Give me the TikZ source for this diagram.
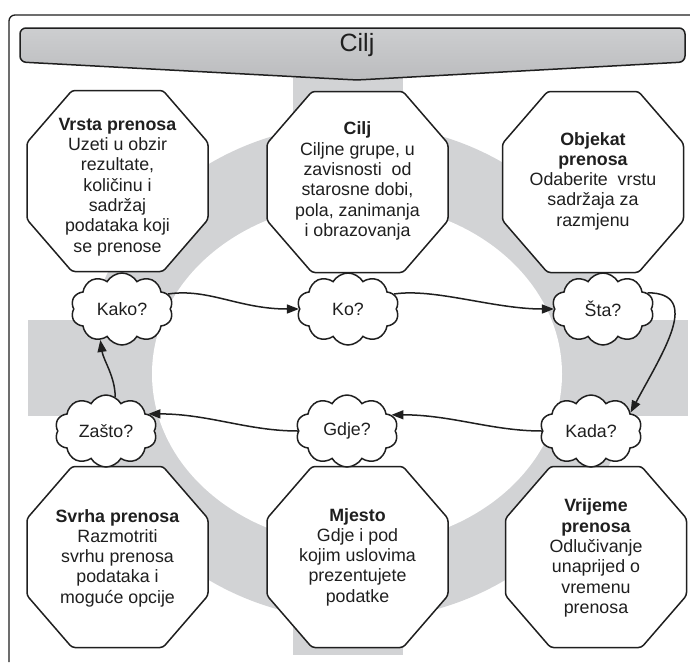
\documentclass[tikz,border=0pt]{standalone}
\usepackage{fontspec}
\setmainfont{Liberation Sans}
\usetikzlibrary{shapes.symbols,arrows.meta}
\definecolor{bggray}{HTML}{D2D3D5}
\definecolor{ink}{HTML}{1F1F1F}
\definecolor{bannertop}{HTML}{CDCED0}
\definecolor{bannerbot}{HTML}{BBBCBE}
\tikzset{
  octline/.style={draw=ink, fill=white, line width=1.5pt, rounded corners=3pt},
  octtext/.style={text=ink, align=center, font=\fontsize{17.8}{20.3}\selectfont, inner sep=0pt},
  cloudbox/.style={cloud, cloud puffs=10, cloud puff arc=120, aspect=1.45, draw=ink, fill=white,
    line width=1.5pt, minimum width=102pt, minimum height=72pt, inner sep=0pt, text=ink,
    font=\fontsize{17.8}{20}\selectfont},
  flow/.style={draw=ink, line width=1.5pt, -{Triangle[length=12pt,width=9pt]}},
  octa/.pic={\path[octline] (-45.5,-90.5) -- (45.5,-90.5) -- (90.5,-38.5) -- (90.5,38.5)
     -- (45.5,90.5) -- (-45.5,90.5) -- (-90.5,38.5) -- (-90.5,-38.5) -- cycle;}
}
\begin{document}
\begin{tikzpicture}[x=1pt,y=-1pt]
\useasboundingbox (0,0) rectangle (690,662);
% background cross and ring
\fill[bggray] (293,70) rectangle (403,655);
\fill[bggray] (28,320) rectangle (688,416);
\fill[bggray] (357,372) ellipse [x radius=272pt, y radius=248pt];
\fill[white] (357,374) ellipse [x radius=205pt, y radius=171pt];
% frame
\draw[ink, line width=1.3pt, rounded corners=6pt] (9,662) -- (9,15) -- (690,15);
% banner
\draw[ink, line width=1.5pt, rounded corners=6pt, top color=bannertop, bottom color=bannerbot]
  (20,28) -- (685,28) -- (685,62) -- (357,80) -- (20,62) -- cycle;
\node[font=\fontsize{25}{30}\selectfont, text=ink] (title) at (357,45) {Cilj};
% octagons
\pic at (117.5,181) {octa};
\node[octtext] (vrsta) at (117.5,187) {\textbf{Vrsta prenosa}\\Uzeti u obzir\\rezultate,\\količinu i\\sadržaj\\podataka koji\\se prenose};
\pic at (357.5,182) {octa};
\node[octtext] (cilj) at (357.5,181) {\textbf{Cilj}\\Ciljne grupe, u\\zavisnosti\ \ od\\starosne dobi,\\pola, zanimanja\\i obrazovanja};
\pic at (593,182) {octa};
\node[octtext] (objekat) at (593,181) {\textbf{Objekat}\\\textbf{prenosa}\\Odaberite\ \ vrstu\\sadržaja za\\razmjenu};
\pic at (117.5,557) {octa};
\node[octtext] (svrha) at (117.5,558) {\textbf{Svrha prenosa}\\Razmotriti\\svrhu prenosa\\podataka i\\moguće opcije};
\pic at (357.5,557) {octa};
\node[octtext] (mjesto) at (357.5,557) {\textbf{Mjesto}\\Gdje i pod\\kojim uslovima\\prezentujete\\podatke};
\pic at (596,557) {octa};
\node[octtext] (vrijeme) at (596,558) {\textbf{Vrijeme}\\\textbf{prenosa}\\Odlučivanje\\unaprijed o\\vremenu\\prenosa};
% clouds
\node[cloudbox] (kako) at (122,309) {Kako?};
\node[cloudbox] (ko) at (348,309) {Ko?};
\node[cloudbox] (sta) at (603,309) {Šta?};
\node[cloudbox] (zasto) at (106,431) {Zašto?};
\node[cloudbox] (gdje) at (347,431) {Gdje?};
\node[cloudbox] (kada) at (591,431) {Kada?};
% connectors
\draw[flow] (kako.18) .. controls +(40,-6) and +(-60,0) .. (ko.180);
\draw[flow] (ko.18) .. controls +(40,-6) and +(-60,0) .. (sta.180);
\draw[flow] (sta.20) .. controls +(55,0) and +(32,-60) .. (kada.25);
\draw[flow] (kada.180) .. controls +(-50,0) and +(60,0) .. (gdje.20);
\draw[flow] (gdje.180) .. controls +(-50,0) and +(60,0) .. (zasto.22);
\draw[flow] (zasto.75) .. controls +(0,-20) and +(3,20) .. (kako.235);
\end{tikzpicture}
\end{document}
